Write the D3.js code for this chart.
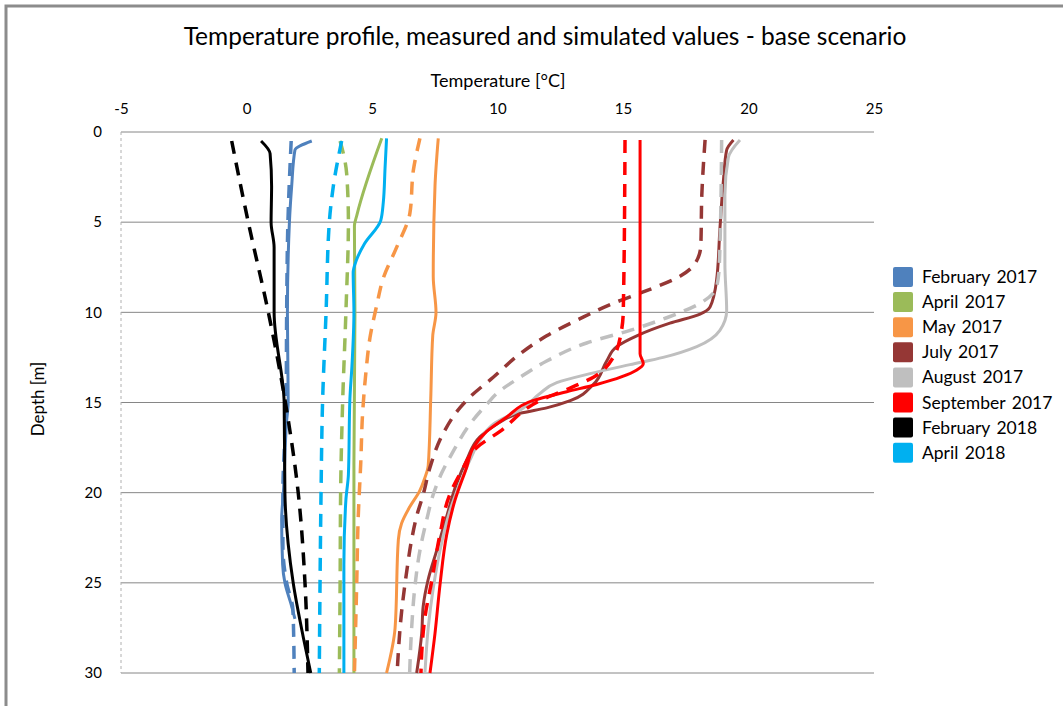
<!DOCTYPE html>
<html>
<head>
<meta charset="utf-8">
<script src="https://cdn.jsdelivr.net/npm/d3@7"></script>
<style>
  body { margin: 0; background: #fff; }
  text { font-family: Lato, "Open Sans", sans-serif; fill: #000; }
</style>
</head>
<body>
<div id="chart"></div>
<script>
// series labels and tick values
var months = ['February 2017', 'April 2017', 'May 2017', 'July 2017',
              'August 2017', 'September 2017', 'February 2018', 'April 2018'];
var xTicks = [-5, 0, 5, 10, 15, 20, 25];
var yTicks = [0, 5, 10, 15, 20, 25, 30];

// [depth m, temperature C]; measured = solid, simulated = dashed
var feb17Measured = [[0.5,2.6],[1,1.93],[3,1.8],[5,1.71],[10,1.63],[15,1.66],[16,1.6],[20,1.47],[21.5,1.4],[24,1.44],[25,1.53],[26.3,1.8],[27,1.93]];
var feb17Simulated = [[0.5,1.78],[5,1.65],[10,1.6],[15,1.58],[20,1.45],[23,1.45],[25,1.6],[26.5,1.85],[30,1.9]];
var apr17Measured = [[0.35,5.39],[4.6,4.4],[5.2,4.3],[10,4.32],[18.5,4.28],[30,4.28]];
var apr17Simulated = [[0.5,3.73],[2.3,3.99],[5,4.06],[10,3.96],[15,3.83],[20,3.75],[25,3.73],[30,3.7]];
var may17Measured = [[0.35,7.64],[3,7.51],[8,7.44],[10,7.55],[11.3,7.42],[14.8,7.34],[18.5,7.24],[19.2,7.1],[19.9,6.9],[20.8,6.5],[21.7,6.18],[22.6,6.05],[27.5,5.92],[30,5.58]];
var may17Simulated = [[0.35,6.91],[2.1,6.65],[4.5,6.51],[6.4,5.98],[8.1,5.45],[9.6,5.19],[11.4,4.92],[13.3,4.76],[15.5,4.63],[18.4,4.55],[21.4,4.45],[25.1,4.39],[30,4.3]];
var jul17Measured = [[0.44,19.4],[1,19.13],[2.7,19.0],[5.4,18.86],[8.2,18.73],[9.7,18.47],[10.1,18.07],[10.6,16.87],[11.3,15.55],[11.9,14.75],[12.7,14.35],[14,13.82],[14.9,12.9],[15.3,11.96],[15.6,10.9],[16.2,9.97],[16.9,9.3],[18.2,8.77],[19.5,8.37],[21.3,7.98],[23.2,7.58],[24.8,7.24],[26.3,7.04],[27.8,6.98],[30,6.78]];
var jul17Simulated = [[0.44,18.27],[3.5,18.14],[6.3,18.1],[7.3,17.87],[8,17.27],[8.8,15.94],[9.5,14.61],[10.35,13.29],[11.3,11.96],[12.3,10.9],[13.6,9.83],[14.7,8.9],[15.3,8.5],[16.7,7.84],[18.6,7.31],[20.1,7.04],[21.3,6.78],[22.6,6.58],[24.4,6.38],[26.6,6.18],[30,6.0]];
var aug17Measured = [[0.44,19.66],[1.4,19.2],[3.5,19.06],[7.3,19.06],[9.9,19.13],[11,18.86],[11.9,17.94],[12.5,16.6],[12.9,15.28],[13.4,13.69],[13.9,12.36],[14.5,11.69],[15.3,11.03],[16.2,9.83],[17.1,9.3],[18.2,8.9],[19.5,8.5],[21.3,8.04],[23.2,7.71],[25.3,7.44],[27.5,7.24],[30,7.11]];
var aug17Simulated = [[0.44,18.93],[7.3,18.84],[8.6,18.73],[9.5,18.07],[10.3,16.74],[11,15.28],[11.7,13.55],[12.7,11.96],[13.6,10.9],[14.5,9.97],[15.1,9.57],[16.2,8.9],[17.7,8.24],[18.9,7.78],[20.1,7.44],[21.5,7.18],[23.2,6.91],[25.2,6.71],[27.5,6.58],[30,6.5]];
var sep17Measured = [[0.44,15.68],[12.3,15.68],[12.85,15.81],[13.2,15.55],[14,13.95],[14.4,12.76],[14.9,11.4],[15.8,10.37],[16.6,9.57],[17.5,9.04],[18.6,8.77],[20.4,8.31],[22.3,7.98],[25.1,7.71],[27.8,7.51],[30,7.31]];
var sep17Simulated = [[0.44,15.08],[10,15.01],[11,14.94],[12.5,14.61],[13.6,13.82],[14.2,12.89],[14.9,11.69],[16.6,10.1],[17.5,9.17],[18.8,8.57],[20.1,8.1],[22.3,7.71],[24.9,7.38],[26.9,7.11],[28.9,6.98],[30,6.95]];
var feb18Measured = [[0.5,0.58],[1.2,0.94],[3,1.0],[5,0.98],[6.4,1.1],[10,1.1],[15,1.5],[20,1.53],[25,1.86],[28,2.26],[30,2.56]];
var feb18Simulated = [[0.5,-0.59],[5,0.07],[10,0.87],[15,1.55],[20,2.06],[25,2.33],[30,2.45]];
var apr18Measured = [[0.35,5.58],[2,5.52],[3.9,5.45],[4.9,5.35],[6.2,4.7],[7.1,4.38],[7.8,4.25],[10,4.28],[13,4.2],[14.8,4.12],[19,4.06],[20.4,3.96],[24,3.88],[30,3.88]];
var apr18Simulated = [[0.5,3.79],[3,3.46],[5,3.3],[10,3.17],[15,3.03],[20,2.97],[25,2.93],[30,2.9]];

var measured = [feb17Measured, apr17Measured, may17Measured, jul17Measured,
                aug17Measured, sep17Measured, feb18Measured, apr18Measured];
var simulated = [feb17Simulated, apr17Simulated, may17Simulated, jul17Simulated,
                 aug17Simulated, sep17Simulated, feb18Simulated, apr18Simulated];

var colors = ['#4f81bd', '#9bbb59', '#f79646', '#953735',
              '#bfbfbf', '#ff0000', '#000000', '#00b0f0'];

var width = 1063;
var height = 706;

var plot_left = 121, plot_right = 874, plot_top = 132, plot_bottom = 673;

var svg = d3.select('#chart')
  .append('svg')
    .attr('width', width)
    .attr('height', height);

// outer frame
svg.append('rect')
    .attr('x', 6)
    .attr('y', 6)
    .attr('width', width + 20)
    .attr('height', height + 20)
    .attr('fill', 'none')
    .attr('stroke', '#8c8c8c')
    .attr('stroke-width', 3);

var x = d3.scaleLinear().domain([-5, 25]).range([plot_left, plot_right]);
var y = d3.scaleLinear().domain([0, 30]).range([plot_top, plot_bottom]);

// title
svg.append('text')
    .attr('x', 545)
    .attr('y', 45)
    .attr('font-size', '24.5px')
    .style('text-anchor', 'middle')
    .text('Temperature profile, measured and simulated values - base scenario');

// horizontal grid lines
svg.append('g')
    .selectAll('line.y-grid')
    .data(yTicks)
  .enter()
    .append('line')
    .attr('class', 'y-grid')
    .attr('x1', plot_left)
    .attr('x2', plot_right)
    .attr('y1', function(d) { return y(d); })
    .attr('y2', function(d) { return y(d); })
    .attr('stroke', '#868686')
    .attr('stroke-width', 1);

// left axis line, dashed
svg.append('line')
    .attr('x1', plot_left).attr('x2', plot_left)
    .attr('y1', plot_top).attr('y2', plot_bottom)
    .attr('stroke', '#b0b0b0')
    .attr('stroke-width', 1)
    .attr('stroke-dasharray', '3,3');

// plain hyphen for negatives, like the original
var tickText = function(d) { return String(d); };

// x axis on top
var xAxis = svg.append('g')
    .attr('transform', 'translate(0,' + plot_top + ')')
    .call(d3.axisTop(x).tickValues(xTicks).tickFormat(tickText).tickSize(0).tickPadding(18));
xAxis.select('.domain').remove();
xAxis.selectAll('text')
    .attr('font-size', '15px')
    .style('font-family', 'Lato, "Open Sans", sans-serif')
    .attr('fill', '#000');

// y axis
var yAxis = svg.append('g')
    .attr('transform', 'translate(' + plot_left + ',0)')
    .call(d3.axisLeft(y).tickValues(yTicks).tickFormat(tickText).tickSize(0).tickPadding(19));
yAxis.select('.domain').remove();
yAxis.selectAll('text')
    .attr('font-size', '15px')
    .style('font-family', 'Lato, "Open Sans", sans-serif')
    .attr('fill', '#000');

// axis titles
svg.append('text')
    .attr('x', 498)
    .attr('y', 87)
    .attr('font-size', '18px')
    .style('text-anchor', 'middle')
    .text('Temperature [°C]');

svg.append('text')
    .attr('transform', 'translate(44,399) rotate(-90)')
    .attr('font-size', '17px')
    .style('text-anchor', 'middle')
    .text('Depth [m]');

// profile lines
var line = d3.line()
    .x(function(d) { return x(d[1]); })
    .y(function(d) { return y(d[0]); })
    .curve(d3.curveMonotoneY);

var lines = svg.append('g');
for(var i = 0; i < months.length; i++) {
    lines.append('path')
        .datum(simulated[i])
        .attr('d', line)
        .attr('fill', 'none')
        .attr('stroke', colors[i])
        .attr('stroke-width', 3.5)
        .attr('stroke-dasharray', '13,9');
    lines.append('path')
        .datum(measured[i])
        .attr('d', line)
        .attr('fill', 'none')
        .attr('stroke', colors[i])
        .attr('stroke-width', 3);
}

// legend
var legend = svg.append('g');
legend.selectAll('rect.legend')
    .data(months)
  .enter()
    .append('rect')
    .attr('class', 'legend')
    .attr('x', 893)
    .attr('y', function(d, i) { return 267 + i * 25.1; })
    .attr('width', 20)
    .attr('height', 20)
    .attr('rx', 2)
    .attr('fill', function(d, i) { return colors[i]; });

legend.selectAll('text.legend')
    .data(months)
  .enter()
    .append('text')
    .attr('class', 'legend')
    .attr('x', 922)
    .attr('y', function(d, i) { return 283 + i * 25.1; })
    .attr('font-size', '17.5px')
    .style('word-spacing', '2px')
    .text(function(d) { return d; });
</script>
</body>
</html>
